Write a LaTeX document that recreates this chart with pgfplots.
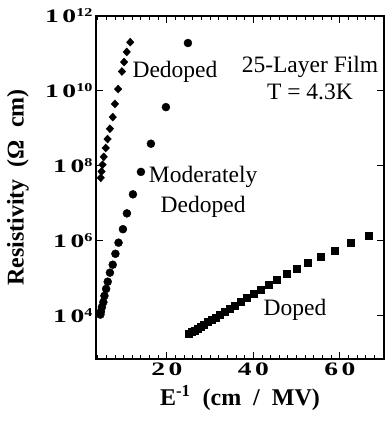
\documentclass[border=0pt]{standalone}
\usepackage{fontspec}
\setmainfont{Liberation Serif}
\usepackage{pgfplots}
\pgfplotsset{compat=1.18}
\newcommand{\tkx}[2]{{\fontsize{19}{19}\selectfont\bfseries\scalebox{1.45}[1]{#1\hspace{2.5pt}#2}}}
\newcommand{\tky}[1]{\tkx{1}{0}\raisebox{0.62em}{\fontsize{12}{12}\selectfont\bfseries\scalebox{1.35}[1]{#1}}}
\begin{document}
\begin{tikzpicture}
\begin{axis}[
 scale only axis, width=288pt, height=343pt,
 xmin=3.6, xmax=70.2, ymode=log, ymin=700, ymax=1e12,
 xtick={20,40,60}, xticklabels={\tkx{2}{0},\tkx{4}{0},\tkx{6}{0}},
 minor xtick={4,6,...,70},
 ytick={1e4,1e6,1e8,1e10,1e12}, yticklabels={\tky{4},\tky{6},\tky{8},\tky{10},\tky{12}},
 minor y tick style={draw=none},
 tick align=inside, major tick length=7pt, minor tick length=4pt,
 axis line style={line width=1.1pt}, tick style={line width=1pt, black},
 /pgf/number format/assume math mode=true,
 xlabel={\fontsize{24}{24}\selectfont\bfseries E\textsuperscript{-1}\ \ (cm \ / \ MV)},
 ylabel={\fontsize{24}{24}\selectfont\bfseries Resistivity\ \ (Ω\ \ cm)},
 xlabel style={at={(rel axis cs:0.5,0)}, anchor=center, yshift=-39pt},
 ylabel style={at={(rel axis cs:-0.2708,0.5)}, anchor=center},
 clip=false
]
\addplot[only marks, mark=diamond*, mark size=4pt, mark options={xscale=1.25}, black] coordinates {
(11.52,2.0e11) (10.71,1.1e11) (10.10,5.9e10) (9.60,3.3e10) (8.72,1.12e10)
(7.98,4.5e9) (7.47,2.0e9) (6.82,9.8e8) (6.27,5.2e8) (5.85,3.0e8)
(5.39,1.74e8) (5.11,1.07e8) (4.88,7.1e7) (4.70,4.8e7)};
\addplot[only marks, mark=*, mark size=4pt, black] coordinates {
(24.86,1.9e11) (19.77,3.7e9) (16.3,3.9e8) (13.99,6.9e7) (12.14,1.74e7)
(10.75,5.4e6) (9.83,2.04e6) (8.81,8.9e5) (8.09,4.5e5) (7.47,2.3e5)
(6.82,1.41e5) (6.31,8.1e4) (5.94,5.2e4) (5.55,3.4e4) (5.30,2.3e4)
(4.97,1.7e4) (4.74,1.29e4) (4.62,1.07e4)};
\addplot[only marks, mark=square*, mark size=3.5pt, black] coordinates {
(66.67,1.35e6) (62.5,8.9e5) (58.82,5.37e5) (55.56,3.72e5) (52.63,2.57e5)
(50.0,1.78e5) (47.62,1.32e5) (45.45,9.1e4) (43.48,6.6e4) (41.67,4.9e4)
(40.0,3.8e4) (38.46,2.95e4) (37.04,2.34e4) (35.71,1.86e4) (34.48,1.55e4)
(33.33,1.29e4) (32.26,1.07e4) (31.25,9.1e3) (30.30,7.8e3) (29.41,6.8e3)
(28.57,5.9e3) (27.78,5.2e3) (27.03,4.6e3) (26.32,4.1e3) (25.64,3.7e3) (25.0,3.3e3)};
\node[anchor=west, font=\fontsize{23.5}{23.5}\selectfont] at (rel axis cs:0.1146,0.837) {Dedoped};
\node[align=center, font=\fontsize{23.5}{27}\selectfont] at (rel axis cs:0.743,0.818) {25-Layer Film\\T = 4.3K};
\node[align=center, font=\fontsize{23.5}{30}\selectfont] at (rel axis cs:0.372,0.487) {Moderately\\Dedoped};
\node[font=\fontsize{23.5}{23.5}\selectfont] at (rel axis cs:0.691,0.143) {Doped};
\end{axis}
\pgfresetboundingbox
\path[use as bounding box] ([shift={(-96pt,-62pt)}]current axis.south west) rectangle ([shift={(290pt,359pt)}]current axis.south west);
\end{tikzpicture}
\end{document}
